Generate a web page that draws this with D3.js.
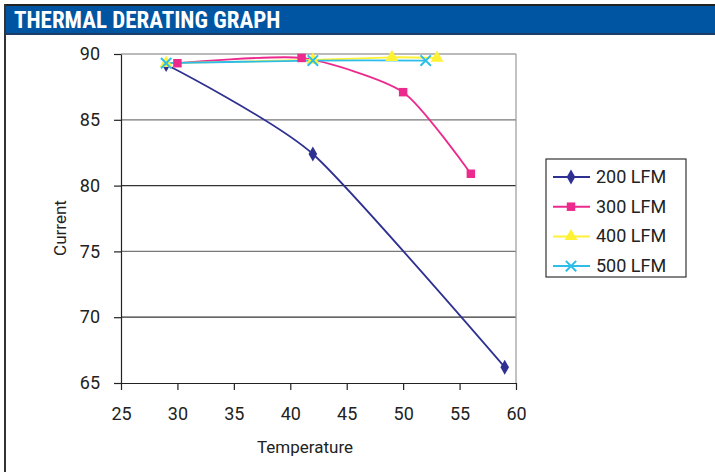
<!DOCTYPE html>
<html>
<head>
<meta charset="utf-8">
<script src="https://cdn.jsdelivr.net/npm/d3@7"></script>
<style>
  body { margin: 0; background: #fff; }
  svg { display: block; }
</style>
</head>
<body>
<svg id="chart" width="715" height="472"></svg>
<script>
const seriesNames = ['200 LFM', '300 LFM', '400 LFM', '500 LFM'];
const temps200 = [29, 42, 59];
const current200 = [89.2, 82.4, 66.2];
const temps300 = [30, 41, 50, 56];
const current300 = [89.3, 89.7, 87.1, 80.9];
const temps400 = [29, 42, 49, 53];
const current400 = [89.3, 89.55, 89.75, 89.7];
const temps500 = [29, 42, 52];
const current500 = [89.3, 89.5, 89.5];
const xTicks = [25, 30, 35, 40, 45, 50, 55, 60];
const yTicks = [65, 70, 75, 80, 85, 90];

const seriesColors = ['#2e3192', '#ec2a8e', '#fff133', '#2cbde9'];
const seriesSymbols = ['diamond', 'square', 'triangle', 'cross'];

const series = [
  { name: seriesNames[0], x: temps200, y: current200 },
  { name: seriesNames[1], x: temps300, y: current300 },
  { name: seriesNames[2], x: temps400, y: current400 },
  { name: seriesNames[3], x: temps500, y: current500 },
].map((s, i) => ({
  ...s,
  color: seriesColors[i],
  symbol: seriesSymbols[i],
  points: s.x.map((v, j) => ({ t: v, c: s.y[j] })),
}));

const svg = d3.select('#chart');
const labelFont = 'Roboto, "Liberation Sans", Arial, sans-serif';

// title band
svg.append('rect').attr('x', 4).attr('y', 4).attr('width', 711).attr('height', 2).attr('fill', '#222');
svg.append('rect').attr('x', 4).attr('y', 6).attr('width', 711).attr('height', 28).attr('fill', '#0055a2');
svg.append('rect').attr('x', 4).attr('y', 33).attr('width', 711).attr('height', 2).attr('fill', '#1d3d66');
svg.append('rect').attr('x', 4).attr('y', 4).attr('width', 2).attr('height', 468).attr('fill', '#333');
svg.append('text')
  .attr('x', 14).attr('y', 28)
  .attr('fill', '#fff')
  .style('font-family', '"Liberation Sans Narrow", "Roboto Condensed", "Arial Narrow", sans-serif')
  .style('font-weight', 'bold')
  .style('font-size', '23px')
  .text('THERMAL DERATING GRAPH');

const x = d3.scaleLinear().domain([25, 60]).range([121, 516]);
const y = d3.scaleLinear().domain([65, 90]).range([383, 54]);

// gridlines
svg.append('g')
  .selectAll('line')
  .data(yTicks.filter((d) => d > 65))
  .join('line')
  .attr('x1', x(25)).attr('x2', x(60))
  .attr('y1', (d) => y(d)).attr('y2', (d) => y(d))
  .attr('stroke', (d) => (d === 80 || d === 70 ? '#333' : '#777'))
  .attr('stroke-width', 1.2);

svg.append('line')
  .attr('x1', x(60)).attr('x2', x(60))
  .attr('y1', y(90)).attr('y2', y(65))
  .attr('stroke', '#999').attr('stroke-width', 1.2);

const xAxis = svg.append('g')
  .attr('transform', `translate(0,${y(65)})`)
  .call(d3.axisBottom(x).tickValues(xTicks).tickSize(7).tickPadding(17).tickSizeOuter(0));
const yAxis = svg.append('g')
  .attr('transform', `translate(${x(25)},0)`)
  .call(d3.axisLeft(y).tickValues(yTicks).tickSize(7).tickPadding(14).tickSizeOuter(0));

[xAxis, yAxis].forEach((g) => {
  g.select('.domain').attr('stroke', '#222').attr('stroke-width', 1.2);
  g.selectAll('.tick line').attr('stroke', '#222').attr('stroke-width', 1.2);
  g.selectAll('.tick text')
    .attr('fill', '#222')
    .style('font-family', labelFont)
    .style('font-size', '18px');
});

svg.append('text')
  .attr('x', 305).attr('y', 453)
  .attr('text-anchor', 'middle')
  .attr('fill', '#222')
  .style('font-family', labelFont)
  .style('font-size', '17px')
  .text('Temperature');

svg.append('text')
  .attr('transform', 'translate(66,228) rotate(-90)')
  .attr('text-anchor', 'middle')
  .attr('fill', '#222')
  .style('font-family', labelFont)
  .style('font-size', '17px')
  .text('Current');

const symbolPath = (type) => {
  if (type === 'diamond') return d3.symbol(d3.symbolDiamond, 64)();
  if (type === 'square') return d3.symbol(d3.symbolSquare, 72)();
  if (type === 'triangle') return d3.symbol(d3.symbolTriangle, 72)();
  return d3.symbol(d3.symbolX, 72)();
};

const line = d3.line()
  .x((d) => x(d.t))
  .y((d) => y(d.c))
  .curve(d3.curveCardinal.tension(0.35));

const plot = svg.append('g');
series.forEach((s) => {
  plot.append('path')
    .datum(s.points)
    .attr('fill', 'none')
    .attr('stroke', s.color)
    .attr('stroke-width', 1.8)
    .attr('d', line);
});
series.forEach((s) => {
  plot.append('g')
    .selectAll('path')
    .data(s.points)
    .join('path')
    .attr('transform', (d) => `translate(${x(d.t)},${y(d.c)})`)
    .attr('d', symbolPath(s.symbol))
    .attr('fill', s.symbol === 'cross' ? 'none' : s.color)
    .attr('stroke', s.symbol === 'cross' ? s.color : 'none')
    .attr('stroke-width', 2);
});

// legend
const legend = svg.append('g').attr('transform', 'translate(546,159)');
legend.append('rect')
  .attr('width', 140).attr('height', 118)
  .attr('fill', '#fff').attr('stroke', '#333').attr('stroke-width', 1.2);
const item = legend.selectAll('g.item')
  .data(series)
  .join('g')
  .attr('class', 'item')
  .attr('transform', (d, i) => `translate(0,${18 + i * 29.7})`);
item.append('line')
  .attr('x1', 7).attr('x2', 44)
  .attr('stroke', (d) => d.color).attr('stroke-width', 2);
item.append('path')
  .attr('transform', 'translate(25,0)')
  .attr('d', (d) => symbolPath(d.symbol))
  .attr('fill', (d) => (d.symbol === 'cross' ? 'none' : d.color))
  .attr('stroke', (d) => (d.symbol === 'cross' ? d.color : 'none'))
  .attr('stroke-width', 2);
item.append('text')
  .attr('x', 50).attr('y', 6)
  .attr('fill', '#222')
  .style('font-family', labelFont)
  .style('font-size', '18px')
  .text((d) => d.name);
</script>
</body>
</html>
